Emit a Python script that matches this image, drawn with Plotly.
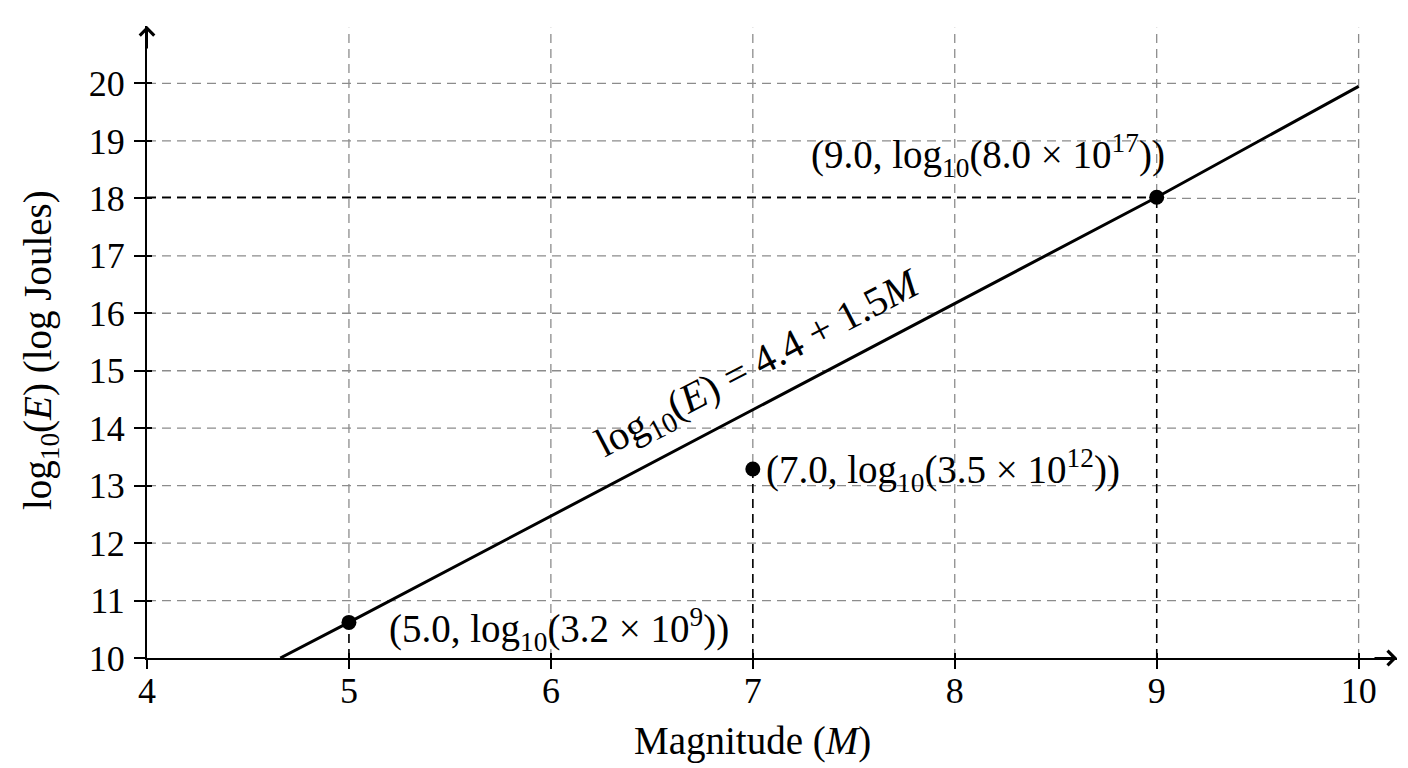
import plotly.graph_objects as go

# ---- data ----
x_ticks = [4, 5, 6, 7, 8, 9, 10]
y_ticks = [10, 11, 12, 13, 14, 15, 16, 17, 18, 19, 20]

line_M = [4.66, 5.0, 9.0, 10.0]
line_logE = [10.0, 10.62, 18.02, 19.95]

pts_M = [5.0, 7.0, 9.0]
pts_logE = [10.62, 13.29, 18.02]
pts_labels = [
    "(5.0, log<sub>10</sub>(3.2 × 10<sup>9</sup>))",
    "(7.0, log<sub>10</sub>(3.5 × 10<sup>12</sup>))",
    "(9.0, log<sub>10</sub>(8.0 × 10<sup>17</sup>))",
]
pts_hline = [False, False, True]

line_label = "log<sub>10</sub>(<i>E</i>) = 4.4 + 1.5<i>M</i>"
x_title = "Magnitude (<i>M</i>)"
y_title = "log<sub>10</sub>(<i>E</i>) (log Joules)"

X_MIN, X_MAX = 4.0, 10.19
Y_MIN, Y_MAX = 10.0, 21.0

FONT = "Liberation Serif"
FS = 36      # tick labels
FL = 39      # labels / titles
GRID = "#8c8c8c"
DASH = "9px,6px"

# page body has an 8px margin: size the figure so the plot lands where the reference has it
OFF = 8
W, H = 1408 - OFF, 768 - OFF
PX_X, PX_Y = 202.0, 57.5          # pixels per unit
X0_PX, Y0_PX = 147 - OFF, 658 - OFF

fig = go.Figure()

fig.add_trace(go.Scatter(x=line_M, y=line_logE, mode="lines",
                         line=dict(color="black", width=3),
                         hoverinfo="skip", showlegend=False, cliponaxis=False))
fig.add_trace(go.Scatter(x=pts_M, y=pts_logE, mode="markers",
                         marker=dict(color="black", size=15),
                         hoverinfo="skip", showlegend=False, cliponaxis=False))
# invisible trace for the inner-tick overlay axes
fig.add_trace(go.Scatter(x=[x_ticks[0]], y=[y_ticks[0]], xaxis="x2", yaxis="y2",
                         mode="markers", marker=dict(opacity=0),
                         hoverinfo="skip", showlegend=False))

shapes = []
# grid
for xv in x_ticks[1:]:
    shapes.append(dict(type="line", xref="x", yref="y", x0=xv, x1=xv,
                       y0=Y_MIN, y1=Y_MAX - 0.03, layer="below",
                       line=dict(color=GRID, width=1.3, dash=DASH)))
for yv in y_ticks[1:]:
    shapes.append(dict(type="line", xref="x", yref="y", x0=X_MIN, x1=x_ticks[-1],
                       y0=yv, y1=yv, layer="below",
                       line=dict(color=GRID, width=1.3, dash=DASH)))
# drop lines
for m, e, h in zip(pts_M, pts_logE, pts_hline):
    shapes.append(dict(type="line", xref="x", yref="y", x0=m, x1=m,
                       y0=Y_MIN, y1=e, layer="below",
                       line=dict(color="black", width=1.5, dash=DASH)))
    if h:
        shapes.append(dict(type="line", xref="x", yref="y", x0=X_MIN, x1=m,
                           y0=e, y1=e, layer="below",
                           line=dict(color="black", width=1.5, dash=DASH)))

annotations = []
tfont = dict(family=FONT, size=FL, color="black")
# point labels
annotations.append(dict(x=pts_M[0], y=pts_logE[0], xref="x", yref="y",
                        text=pts_labels[0], showarrow=False, font=tfont,
                        xanchor="left", yanchor="middle", xshift=38, yshift=-7))
annotations.append(dict(x=pts_M[1], y=pts_logE[1], xref="x", yref="y",
                        text=pts_labels[1], showarrow=False, font=tfont,
                        xanchor="left", yanchor="middle", xshift=11, yshift=-2))
annotations.append(dict(x=pts_M[2], y=pts_logE[2], xref="x", yref="y",
                        text=pts_labels[2], showarrow=False, font=tfont,
                        xanchor="right", yanchor="middle", xshift=10, yshift=42))
# line label
annotations.append(dict(x=7.03, y=15.1, xref="x", yref="y", text=line_label,
                        showarrow=False, font=dict(family=FONT, size=41, color="black"),
                        textangle=-27.5, xanchor="center", yanchor="middle"))
# axis titles
annotations.append(dict(x=7, y=Y_MIN, xref="x", yref="y", text=x_title,
                        showarrow=False, font=tfont, xanchor="center",
                        yanchor="middle", yshift=-83))
annotations.append(dict(x=X_MIN, y=15.36, xref="x", yref="y", text=y_title,
                        showarrow=False, font=tfont, textangle=-90,
                        xanchor="center", yanchor="middle", xshift=-107))
# axis arrows
annotations.append(dict(x=X_MAX, y=Y_MIN, xref="x", yref="y", ax=-24, ay=0,
                        text="", showarrow=True, arrowhead=4, arrowsize=1.4,
                        arrowwidth=2, arrowcolor="black", standoff=0))
annotations.append(dict(x=X_MIN, y=Y_MAX, xref="x", yref="y", ax=0, ay=24,
                        text="", showarrow=True, arrowhead=4, arrowsize=1.4,
                        arrowwidth=2, arrowcolor="black", standoff=0))

axis_common = dict(showgrid=False, zeroline=False, ticks="outside",
                   tickcolor="black", tickwidth=1.5,
                   showline=True, linecolor="black", linewidth=2,
                   tickfont=dict(family=FONT, size=FS, color="black"))

plot_w = (X_MAX - X_MIN) * PX_X
plot_h = (Y_MAX - Y_MIN) * PX_Y

fig.update_layout(
    width=W, height=H,
    margin=dict(l=X0_PX, r=W - X0_PX - plot_w, t=Y0_PX - plot_h, b=H - Y0_PX, pad=0),
    paper_bgcolor="white", plot_bgcolor="white",
    xaxis=dict(range=[X_MIN, X_MAX], tickvals=x_ticks, ticklen=9,
               ticklabelstandoff=-9, **axis_common),
    yaxis=dict(range=[Y_MIN, Y_MAX], tickvals=y_ticks, ticklen=11,
               ticklabelstandoff=2, **axis_common),
    xaxis2=dict(range=[X_MIN, X_MAX], overlaying="x", anchor="y2", side="bottom",
                tickvals=x_ticks, ticks="inside", ticklen=5, tickwidth=1.5,
                tickcolor="black", showticklabels=False, showgrid=False,
                zeroline=False, showline=False),
    yaxis2=dict(range=[Y_MIN, Y_MAX], overlaying="y", anchor="x2", side="left",
                tickvals=y_ticks, ticks="inside", ticklen=5, tickwidth=1.5,
                tickcolor="black", showticklabels=False, showgrid=False,
                zeroline=False, showline=False),
    shapes=shapes, annotations=annotations,
    font=dict(family=FONT, size=FS, color="black"),
)

fig.write_html("out.html")
